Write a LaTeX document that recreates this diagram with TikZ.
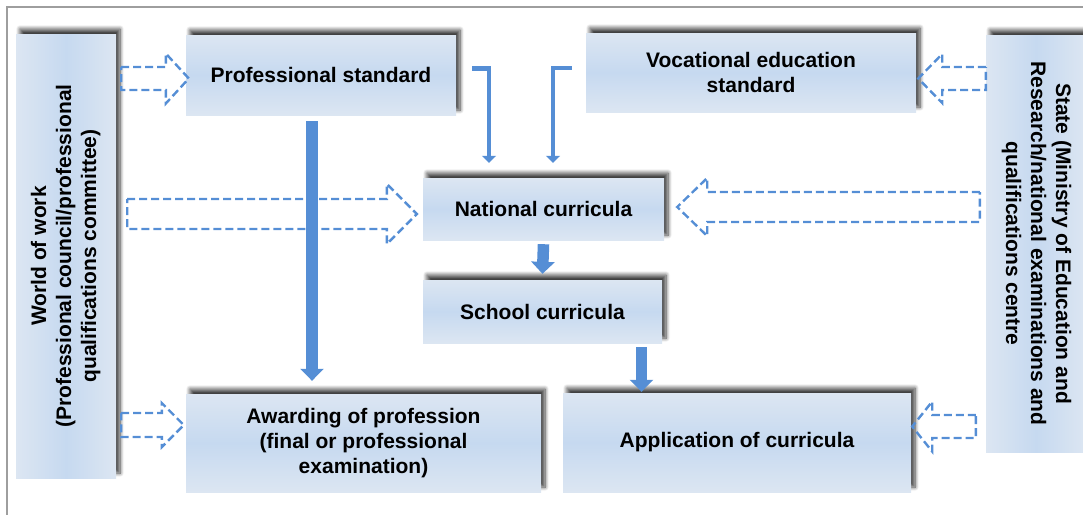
\documentclass[tikz,border=0pt]{standalone}
\usepackage{fontspec}
\setmainfont{Liberation Sans}
\usepackage{graphicx}
\usepackage{tikz}
\usetikzlibrary{positioning, calc, arrows.meta, shadows.blur}

\definecolor{boxedge}{HTML}{DCE6F2}
\definecolor{boxmid}{HTML}{C6D9F0}
\definecolor{flowblue}{HTML}{558ED5}

% hollow dashed block arrow: start, tip, shaft half width, head half width, head length
\newcommand\hollowarrow[5]{%
  \draw[hollow] let \p1=#1, \p2=#2, \n1={ifthenelse(\x2>\x1,1,-1)} in
    (\x1,{\y1+#3pt}) -- ({\x2-\n1*#5pt},{\y1+#3pt}) -- ({\x2-\n1*#5pt},{\y1+#4pt})
    -- (\x2,\y1) -- ({\x2-\n1*#5pt},{\y1-#4pt}) -- ({\x2-\n1*#5pt},{\y1-#3pt})
    -- (\x1,{\y1-#3pt}) -- cycle;}

\begin{document}
\begin{tikzpicture}[x=1pt, y=-1pt,
    font=\fontsize{21}{25}\selectfont\bfseries,
    block/.style={rectangle, inner sep=0pt, align=center,
        top color=boxedge, bottom color=boxedge, middle color=boxmid,
        blur shadow={shadow xshift=4pt, shadow yshift=5pt, shadow blur steps=8,
        shadow blur radius=4pt, shadow opacity=75}},
    sideblock/.style={rectangle, inner sep=0pt, align=center,
        left color=boxedge, right color=boxedge, middle color=boxmid,
        blur shadow={shadow xshift=4pt, shadow yshift=5pt, shadow blur steps=8,
        shadow blur radius=4pt, shadow opacity=75}},
    hollow/.style={draw=flowblue, dash pattern=on 8pt off 4pt, line width=2.4pt},
    link/.style={draw=flowblue, line width=4.5pt, -{Triangle[width=14pt,length=7pt]}},
    bigflow/.style={draw=flowblue, line width=11.5pt, -{Triangle[width=23pt,length=12pt]}}
]
\useasboundingbox (0,0) rectangle (1083,514);
\clip (0,0) rectangle (1083,514);
\draw[black!38, line width=1.5pt] (7,7) rectangle (1110,540);

\node[sideblock, minimum width=100pt, minimum height=444pt] (world) at (66,256)
{\rotatebox{90}{\begin{tabular}{@{}c@{}}World of work\\(Professional council/professional\\qualifications committee)\end{tabular}}};
\node[sideblock, minimum width=100pt, minimum height=417pt] (state) at (1036,243.5)
{\rotatebox{-90}{\begin{tabular}{@{}c@{}}State (Ministry of Education and\\Research/national examinations and\\qualifications centre\end{tabular}}};

\node[block, minimum width=270pt, minimum height=80pt] (prof) at (321,75) {Professional standard};
\node[block, minimum width=330pt, minimum height=79pt] (voc) at (751,72.5) {Vocational education\\standard};
\node[block, minimum width=241pt, minimum height=62pt] (nat) at (543.5,209) {National curricula};
\node[block, minimum width=239pt, minimum height=63pt] (school) at (542.5,311.5) {School curricula};
\node[block, minimum width=355pt, minimum height=98pt] (award) at (363.5,443) {Awarding of profession\\(final or professional\\examination)};
\node[block, minimum width=348pt, minimum height=99pt] (app) at (737,442.5) {Application of curricula};

% dashed block arrows
\hollowarrow{($(world.east |- prof.west)+(5,3.5)$)}{($(prof.west)+(3,3.5)$)}{11.5}{25}{23}
\hollowarrow{($(world.east |- nat.west)+(11,5)$)}{($(nat.west)+(-6,5)$)}{15}{30}{30}
\hollowarrow{($(world.east |- award.west)+(5,-18)$)}{($(award.west)+(-2,-18)$)}{12}{22}{22}
\hollowarrow{($(state.west |- voc.east)+(0,6)$)}{($(voc.east)+(2,6)$)}{11.5}{24.5}{24}
\hollowarrow{($(state.west |- nat.east)+(-6,-2)$)}{($(nat.east)+(13,-2)$)}{15}{29}{30}
\hollowarrow{($(state.west |- app.east)+(-10,-16)$)}{($(app.east)+(1,-16)$)}{11.5}{25}{20}

% solid arrows
\draw[bigflow] ($(prof.south)+(-9,6)$) -- ($(prof.south |- award.north)+(-9,-13)$);
\draw[link] ($(prof.east)+(16,-6.5)$) -| ($(nat.north)+(-54.5,-15)$);
\draw[link] ($(voc.west)+(-14,-4.5)$) -| ($(nat.north)+(9.5,-15)$);
\draw[bigflow] ($(nat.south)+(0,4)$) -- ($(school.north)+(0,-6)$);
\draw[bigflow] ($(school.south)+(99,4)$) -- ($(school.south |- app.north)+(99,-1)$);
\end{tikzpicture}
\end{document}
